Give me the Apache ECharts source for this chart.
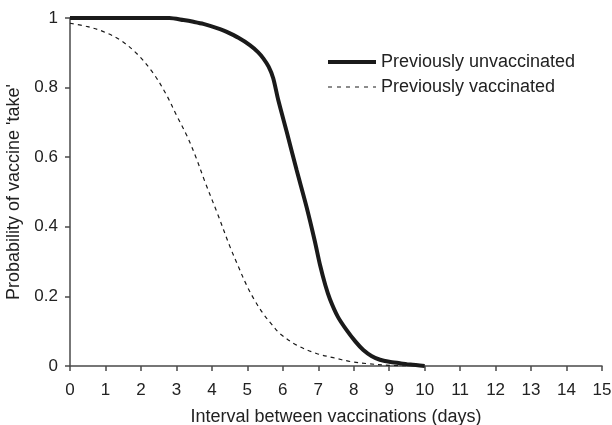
<!DOCTYPE html>
<html>
<head>
<meta charset="utf-8">
<script src="https://cdn.jsdelivr.net/npm/echarts@6/dist/echarts.min.js"></script>
<style>
  html, body { margin: 0; padding: 0; background: #fff; }
  #chart { width: 612px; height: 425px; }
</style>
</head>
<body>
<div id="chart"></div>
<script>
// x tick labels (days)
const xTicks = [0, 1, 2, 3, 4, 5, 6, 7, 8, 9, 10, 11, 12, 13, 14, 15];
const yTicks = [0, 0.2, 0.4, 0.6, 0.8, 1];

// previously unvaccinated: [days, probability]
const unvaccinated = [
  [0, 1], [1, 1], [2, 1], [2.8, 1], [3.2, 0.994], [3.48, 0.989], [3.76, 0.983],
  [4.23, 0.968], [4.42, 0.96], [4.75, 0.943], [5.07, 0.922], [5.3, 0.902],
  [5.45, 0.884], [5.6, 0.86], [5.73, 0.827], [5.87, 0.765], [6.11, 0.673],
  [6.39, 0.563], [6.67, 0.457], [6.9, 0.36], [7.05, 0.29], [7.2, 0.232],
  [7.33, 0.192], [7.55, 0.142], [7.8, 0.103], [8.05, 0.07], [8.27, 0.046],
  [8.5, 0.029], [8.74, 0.018], [9.0, 0.012], [9.3, 0.008], [9.6, 0.004], [10, 0]
];

// previously vaccinated: [days, probability]
const vaccinated = [
  [0, 0.985], [0.5, 0.975], [0.94, 0.961], [1.41, 0.937], [1.88, 0.898],
  [2.35, 0.841], [2.72, 0.779], [3.0, 0.721], [3.29, 0.663], [3.55, 0.6],
  [3.81, 0.528], [4.15, 0.44], [4.51, 0.343], [4.75, 0.285], [4.98, 0.232],
  [5.2, 0.19], [5.45, 0.15], [5.7, 0.118], [5.92, 0.093], [6.39, 0.06],
  [6.95, 0.036], [7.42, 0.024], [7.9, 0.013], [8.36, 0.007], [9.0, 0.002],
  [9.5, 0]
];

const font = 'Liberation Sans, Arial, sans-serif';
const axisColor = '#4a4a4a';
const textColor = '#222';
const lineColor = '#1a1a1a';

const myChart = echarts.init(document.getElementById('chart'));

const option = {
  backgroundColor: '#fff',
  animation: false,
  grid: {
    left: 70,
    right: 10,
    top: 18,
    bottom: 59,
    outerBoundsMode: 'none'
  },
  legend: {
    orient: 'vertical',
    left: 321,
    top: 48,
    itemWidth: 48,
    itemHeight: 18,
    itemGap: 7,
    itemStyle: { opacity: 0 },
    textStyle: { fontFamily: font, fontSize: 18, color: textColor },
    data: [
      { name: 'Previously unvaccinated', lineStyle: { width: 4, color: lineColor } },
      { name: 'Previously vaccinated', lineStyle: { width: 1.2, color: lineColor, type: [4, 5] } }
    ]
  },
  xAxis: {
    type: 'value',
    min: xTicks[0],
    max: xTicks[xTicks.length - 1],
    interval: 1,
    name: 'Interval between vaccinations (days)',
    nameLocation: 'middle',
    nameGap: 42,
    nameTextStyle: { fontFamily: font, fontSize: 18, color: textColor },
    axisLine: { lineStyle: { color: axisColor, width: 1.5 } },
    axisTick: { inside: false, length: 5, lineStyle: { color: axisColor, width: 1.5 } },
    axisLabel: { margin: 16, fontFamily: font, fontSize: 17, color: textColor },
    splitLine: { show: false }
  },
  yAxis: {
    type: 'value',
    min: yTicks[0],
    max: yTicks[yTicks.length - 1],
    interval: 0.2,
    name: "Probability of vaccine 'take'",
    nameLocation: 'middle',
    nameGap: 42,
    nameTextStyle: { fontFamily: font, fontSize: 18, color: textColor },
    axisLine: { show: true, lineStyle: { color: axisColor, width: 1.5 } },
    axisTick: { show: true, inside: false, length: 5, lineStyle: { color: axisColor, width: 1.5 } },
    axisLabel: { margin: 12, fontFamily: font, fontSize: 17, color: textColor },
    splitLine: { show: false }
  },
  series: [
    {
      name: 'Previously unvaccinated',
      type: 'line',
      data: unvaccinated,
      symbol: 'none',
      smooth: 0.25,
      lineStyle: { color: lineColor, width: 4 },
      itemStyle: { color: lineColor }
    },
    {
      name: 'Previously vaccinated',
      type: 'line',
      data: vaccinated,
      symbol: 'none',
      smooth: 0.35,
      lineStyle: { color: lineColor, width: 1.2, type: [4, 4] },
      itemStyle: { color: lineColor }
    }
  ]
};

myChart.setOption(option);
</script>
</body>
</html>
